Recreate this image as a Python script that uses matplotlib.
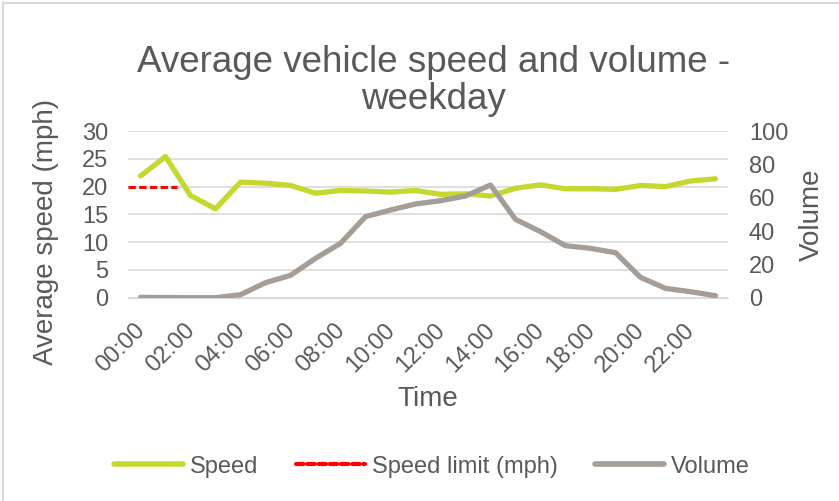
import matplotlib.pyplot as plt
from matplotlib.lines import Line2D
from matplotlib.transforms import ScaledTranslation

plt.rcParams['font.family'] = ['Liberation Sans', 'DejaVu Sans']

# Data
hours = ['%02d:00' % h for h in range(24)]
speed = [21.9, 25.4, 18.4, 16.0, 20.8, 20.6, 20.2, 18.8, 19.3, 19.2, 19.0, 19.3,
         18.6, 18.7, 18.3, 19.7, 20.3, 19.6, 19.6, 19.5, 20.2, 20.0, 21.0, 21.4]
volume = [0.2, 0.1, 0.0, 0.0, 1.8, 9.0, 13.4, 23.6, 32.6, 48.6, 52.6, 56.2,
          58.2, 61.0, 67.6, 47.0, 39.6, 31.2, 29.6, 27.0, 12.2, 5.6, 3.6, 1.2]
speed_limit = 20
limit_span = [-0.5, 1.45]  # category range covered by the limit line

text_col = '#595959'
speed_col = '#C4D82E'
volume_col = '#A69D96'
grid_col = '#D9D9D9'

fig = plt.figure(figsize=(8.39, 5.01), dpi=100)
ax = fig.add_axes([128 / 839, 1 - 297.7 / 501, 600 / 839, 166.7 / 501])
ax2 = ax.twinx()

x = list(range(len(hours)))

# Speed and limit on the left axis
ax.plot(x, speed, color=speed_col, lw=3.8, solid_capstyle='round', zorder=3)
ax.plot(limit_span, [speed_limit, speed_limit], color='#FF0000', lw=2.2,
        dashes=(2.4, 1.1), zorder=3)

# Volume on the right axis
ax2.plot(x, volume, color=volume_col, lw=3.8, solid_capstyle='round', zorder=3)

ax.set_xlim(-0.5, 23.5)
ax.set_ylim(0, 30)
ax.set_yticks(range(0, 31, 5))
ax2.set_ylim(0, 100)
ax2.set_yticks(range(0, 101, 20))

ax.set_xticks(x[::2])
ax.set_xticklabels(hours[::2], rotation=45, ha='right', va='baseline',
                   rotation_mode='anchor')

ax.grid(axis='y', color=grid_col, lw=1.2)
ax.set_axisbelow(True)
for a in (ax, ax2):
    for s in a.spines.values():
        s.set_visible(False)
    a.tick_params(length=0, labelsize=17, colors=text_col)
ax.spines['bottom'].set_visible(True)
ax.spines['bottom'].set_color(grid_col)
ax.tick_params(axis='x', pad=24)
ax.tick_params(axis='y', pad=14)
ax2.tick_params(axis='y', pad=15)
shift = ScaledTranslation(5 / 100, 0, fig.dpi_scale_trans)
for lbl in ax.get_xticklabels():
    lbl.set_transform(lbl.get_transform() + shift)

ax.set_xlabel('Time', fontsize=20, color=text_col, va='center')
ax.xaxis.set_label_coords(0.5, -0.61)
ax.set_ylabel('Average speed (mph)', fontsize=20, color=text_col, va='center')
ax.yaxis.set_label_coords(-0.137, 0.394)
ax2.set_ylabel('Volume', fontsize=20, color=text_col, va='center')
ax2.yaxis.set_label_coords(1.14, 0.5)

fig.text(0.517, 0.838, 'Average vehicle speed and volume -\nweekday', ha='center',
         va='center', fontsize=26.5, color=text_col, linespacing=1.05)

handles = [
    Line2D([], [], color=speed_col, lw=4, solid_capstyle='round'),
    Line2D([], [], color='#FF0000', lw=3, dashes=(1.8, 0.9),
           dash_capstyle='round'),
    Line2D([], [], color=volume_col, lw=4, solid_capstyle='round'),
]
fig.legend(handles, ['Speed', 'Speed limit (mph)', 'Volume'], loc='center',
           bbox_to_anchor=(0.515, 0.0685), ncol=3, frameon=False, fontsize=17,
           labelcolor=text_col, handlelength=2.9, handletextpad=0.3,
           columnspacing=1.6)

# Chart frame (top and left edges visible)
fig.add_artist(Line2D([2.5 / 839, 2.5 / 839], [0, 1 - 2.5 / 501],
                      color=grid_col, lw=1.5, transform=fig.transFigure))
fig.add_artist(Line2D([2.5 / 839, 1], [1 - 2.5 / 501, 1 - 2.5 / 501],
                      color=grid_col, lw=1.5, transform=fig.transFigure))

fig.savefig('out.png', dpi=100)
